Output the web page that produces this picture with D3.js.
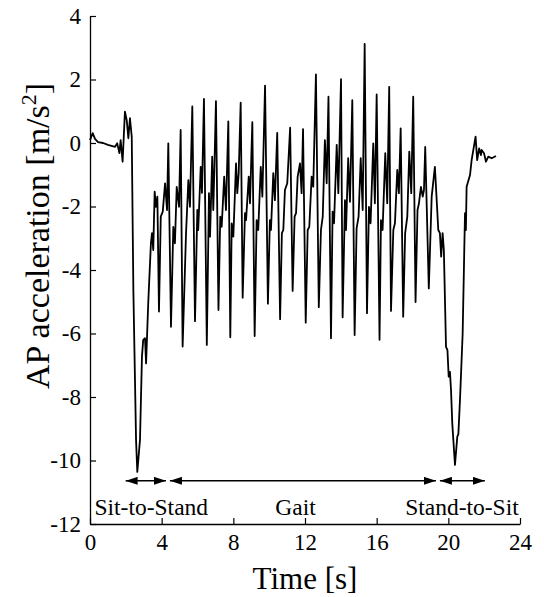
<!DOCTYPE html>
<html>
<head>
<meta charset="utf-8">
<script src="https://cdn.jsdelivr.net/npm/d3@7"></script>
<style>
  body { margin: 0; background: #fff; }
  text { font-family: "Liberation Serif", "Times New Roman", serif; fill: #000; }
</style>
</head>
<body>
<svg id="chart" width="544" height="597"></svg>
<script>
// time [s] and AP acceleration [m/s^2]
const time = [
  0.00, 0.15, 0.28, 0.45, 0.73, 1.00, 1.40, 1.52, 1.64, 1.71, 1.82, 1.95, 2.05, 2.14, 2.23, 2.33,
  2.42, 2.57, 2.64, 2.79, 2.90, 2.97, 3.07, 3.13, 3.25, 3.40, 3.46, 3.53, 3.61, 3.68, 3.76, 3.85,
  3.95, 4.06, 4.19, 4.30, 4.37, 4.52, 4.65, 4.74, 4.84, 4.97, 5.06, 5.17, 5.36, 5.49, 5.58, 5.71,
  5.86, 5.99, 6.04, 6.18, 6.25, 6.36, 6.52, 6.64, 6.70, 6.82, 6.88, 6.94, 7.03, 7.17, 7.27, 7.35,
  7.49, 7.59, 7.72, 7.83, 7.91, 8.00, 8.15, 8.22, 8.30, 8.41, 8.52, 8.65, 8.71, 8.86, 8.93, 9.06,
  9.19, 9.30, 9.39, 9.53, 9.62, 9.77, 9.93, 10.04, 10.10, 10.23, 10.32, 10.45, 10.61, 10.71, 10.79, 10.88,
  11.01, 11.17, 11.31, 11.42, 11.50, 11.59, 11.72, 11.81, 11.89, 12.04, 12.15, 12.24, 12.37, 12.46, 12.61, 12.77,
  12.89, 12.99, 13.11, 13.21, 13.31, 13.45, 13.54, 13.62, 13.77, 13.86, 14.01, 14.10, 14.23, 14.29, 14.41, 14.51,
  14.64, 14.77, 14.88, 14.99, 15.11, 15.22, 15.33, 15.46, 15.57, 15.66, 15.81, 15.90, 16.00, 16.16, 16.24, 16.33,
  16.48, 16.59, 16.70, 16.80, 16.93, 17.02, 17.15, 17.24, 17.34, 17.48, 17.59, 17.71, 17.82, 17.93, 18.04, 18.17,
  18.28, 18.36, 18.47, 18.57, 18.64, 18.71, 18.91, 19.07, 19.25, 19.44, 19.53, 19.60, 19.68, 19.75, 19.87, 19.95,
  20.02, 20.09, 20.15, 20.22, 20.37, 20.50, 20.56, 20.65, 20.80, 20.93, 20.98, 21.02, 21.21, 21.30, 21.52, 21.61,
  21.72, 21.82, 21.86, 21.99, 22.10, 22.23, 22.42, 22.66
];
const accel = [
  0.09, 0.31, 0.13, 0.03, 0.00, -0.06, -0.12, -0.01, -0.32, 0.09, -0.59, 0.99, 0.72, 0.15, 0.78, 0.20,
  -4.63, -9.35, -10.36, -9.35, -6.73, -6.20, -6.15, -6.94, -5.05, -3.16, -2.84, -3.37, -1.53, -2.01, -1.69, -5.31,
  -2.32, -2.16, -1.27, -2.11, -0.01, -5.79, -2.64, -3.16, -1.38, -2.01, 0.41, -6.41, -2.84, -1.17, -2.01, 1.15,
  -5.61, -2.11, -2.74, -0.75, -1.57, 1.39, -6.36, -1.58, -2.95, -0.43, -2.11, -0.85, 1.32, -5.26, -2.32, -2.64,
  -1.06, -2.11, 0.68, -6.12, -2.53, -2.95, -0.64, -1.58, -0.95, 1.27, -4.87, -2.21, -2.43, -1.06, -1.90, 0.66,
  -6.08, -2.43, -2.74, -0.75, -1.69, 1.81, -5.06, -2.43, -2.74, -0.95, -1.80, 0.32, -5.55, -2.84, -2.74, -1.48,
  -1.27, 0.48, -4.66, -2.32, -2.21, -1.06, -0.64, -1.58, 0.44, -5.66, -2.74, -2.64, -1.06, -1.38, 2.16, -5.17,
  -2.74, -2.32, 0.09, -1.27, 1.46, -6.15, -2.16, -2.53, -0.06, -1.58, 2.01, -5.49, -1.80, -2.74, -0.48, -1.85,
  1.35, -6.05, -2.69, -2.32, -0.48, -2.11, 3.12, -5.36, -2.01, -2.53, -0.01, -1.90, 1.53, -6.20, -2.43, -2.74,
  -0.32, -1.90, 1.77, -5.29, -2.74, -2.53, -0.85, -1.58, 0.46, -5.47, -2.84, -2.32, -0.27, -1.58, 1.46, -5.01,
  -2.11, -1.90, -1.38, -1.69, -1.48, -0.12, -4.58, -1.69, -0.75, -2.74, -2.84, -3.58, -2.84, -3.37, -6.42, -6.52,
  -7.36, -7.21, -7.78, -8.83, -10.14, -9.25, -9.17, -8.09, -5.99, -2.21, -2.74, -1.38, -1.01, -0.54, 0.20, -0.54,
  -0.17, -0.38, -0.22, -0.32, -0.59, -0.43, -0.48, -0.41
];

const xTicks = [0, 4, 8, 12, 16, 20, 24];
const yTicks = [-12, -10, -8, -6, -4, -2, 0, 2, 4];

// task phases marked under the trace
const phaseNames = ['Sit-to-Stand', 'Gait', 'Stand-to-Sit'];
const phaseStart = [1.99, 4.46, 19.53];
const phaseEnd = [4.24, 19.31, 22.04];
const phaseLabelX = [3.42, 11.47, 20.76];
const arrowLevel = -10.64;
const labelLevel = -11.72;

const svg = d3.select('#chart');
const margin = {left: 90, top: 16, right: 24, bottom: 73};
const width = 544 - margin.left - margin.right;
const height = 597 - margin.top - margin.bottom;

const chart = svg.append('g')
    .attr('transform', `translate(${margin.left}, ${margin.top})`);

const xScale = d3.scaleLinear().domain([0, 24]).range([0, width]);
const yScale = d3.scaleLinear().domain([-12, 4]).range([height, 0]);

const defs = svg.append('defs');
defs.append('marker')
    .attr('id', 'head')
    .attr('viewBox', '0 0 12 8')
    .attr('refX', 12)
    .attr('refY', 4)
    .attr('markerWidth', 12)
    .attr('markerHeight', 8)
    .attr('markerUnits', 'userSpaceOnUse')
    .attr('orient', 'auto-start-reverse')
  .append('path')
    .attr('d', 'M0,0 L12,4 L0,8 Z')
    .attr('fill', '#000');

// axes, ticks pointing inward
const xAxis = d3.axisBottom(xScale)
    .tickValues(xTicks)
    .tickSizeInner(-6)
    .tickSizeOuter(0)
    .tickPadding(10)
    .tickFormat(d => String(d));
const gx = chart.append('g')
    .attr('transform', `translate(0, ${height})`)
    .call(xAxis);

const yAxis = d3.axisLeft(yScale)
    .tickValues(yTicks)
    .tickSizeInner(-6)
    .tickSizeOuter(0)
    .tickPadding(9)
    .tickFormat(d => String(d));
const gy = chart.append('g').call(yAxis);

[gx, gy].forEach(g => {
    g.select('.domain').attr('stroke', '#000').attr('stroke-width', 1.3);
    g.selectAll('.tick line').attr('stroke', '#000').attr('stroke-width', 1.2);
    g.selectAll('.tick text')
        .attr('font-family', '"Liberation Serif", "Times New Roman", serif')
        .attr('font-size', 23)
        .attr('fill', '#000');
});

// signal
const line = d3.line()
    .x(d => xScale(d[0]))
    .y(d => yScale(d[1]));

chart.append('path')
    .datum(d3.zip(time, accel))
    .attr('fill', 'none')
    .attr('stroke', '#000')
    .attr('stroke-width', 1.8)
    .attr('stroke-linejoin', 'round')
    .attr('d', line);

// phase arrows and labels
phaseNames.forEach((name, i) => {
    chart.append('line')
        .attr('x1', xScale(phaseStart[i]))
        .attr('x2', xScale(phaseEnd[i]))
        .attr('y1', yScale(arrowLevel))
        .attr('y2', yScale(arrowLevel))
        .attr('stroke', '#000')
        .attr('stroke-width', 1.4)
        .attr('marker-start', 'url(#head)')
        .attr('marker-end', 'url(#head)');

    chart.append('text')
        .attr('x', xScale(phaseLabelX[i]))
        .attr('y', yScale(labelLevel))
        .attr('text-anchor', 'middle')
        .attr('font-size', 23.5)
        .text(name);
});

// axis titles
svg.append('text')
    .attr('x', margin.left + xScale(12))
    .attr('y', 589)
    .attr('text-anchor', 'middle')
    .attr('font-size', 31)
    .text('Time [s]');

const yTitle = svg.append('text')
    .attr('transform', 'translate(49, 236) rotate(-90)')
    .attr('text-anchor', 'middle')
    .attr('font-size', 34);
yTitle.append('tspan').text('AP acceleration [m/s');
yTitle.append('tspan').attr('font-size', 22).attr('dy', -13).text('2');
yTitle.append('tspan').attr('dy', 13).text(']');
</script>
</body>
</html>
